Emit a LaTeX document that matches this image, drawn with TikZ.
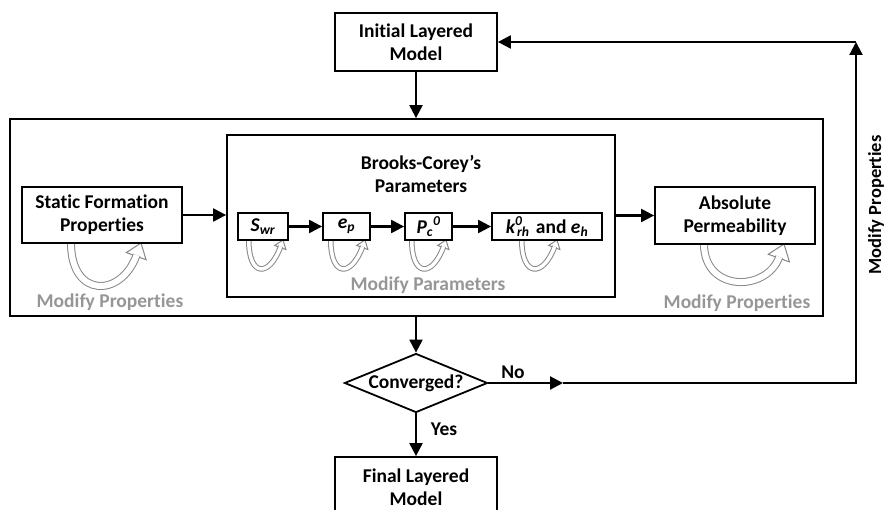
\documentclass[tikz,border=0pt]{standalone}
\usepackage{fontspec}
\setmainfont{Carlito}[Ligatures=NoCommon]
\usetikzlibrary{arrows.meta,shapes.geometric}
\definecolor{mgray}{RGB}{150,150,150}
\definecolor{lgray}{RGB}{135,135,135}
\newcommand{\loopar}[6]{%
 \pgfmathsetmacro{\LAhw}{0.75*#6}%
 \pgfmathsetmacro{\LAbx}{#2-0.342*#6}%
 \pgfmathsetmacro{\LAby}{#3+0.94*#6}%
 \pgfmathsetmacro{\LAcy}{#3+(#4-0.117*#6)/0.75}%
 \pgfmathsetmacro{\LAap}{(\LAcy-\LAby)/0.94}%
 \pgfmathsetmacro{\LAcx}{\LAbx-0.342*\LAap}%
 \pgfmathsetmacro{\LAsx}{#1+#5/2+1}%
 \pgfmathsetmacro{\LAux}{\LAbx+0.94*\LAhw}%
 \pgfmathsetmacro{\LAuy}{\LAby+0.342*\LAhw}%
 \pgfmathsetmacro{\LAvx}{\LAbx-0.94*\LAhw}%
 \pgfmathsetmacro{\LAvy}{\LAby-0.342*\LAhw}%
 \pgfmathsetmacro{\LAex}{\LAbx+0.342*1.2}%
 \pgfmathsetmacro{\LAey}{\LAby-0.94*1.2}%
 \draw[loophead] (#2,#3) -- (\LAux,\LAuy) -- (\LAvx,\LAvy) -- cycle;
 \draw[loopband, double distance=#5] (\LAsx,#3) .. controls (\LAsx,\LAcy) and (\LAcx,\LAcy) .. (\LAex,\LAey);
}
\begin{document}
\begin{tikzpicture}[x=1pt,y=-1pt,
  txt/.style={font=\bfseries\fontsize{19.5}{23}\selectfont, align=center, inner sep=0pt},
  box/.style={txt, draw, rectangle, line width=1.8pt},
  arr/.style={line width=2.2pt, -{Triangle[length=13pt,width=13pt]}},
  gtxt/.style={txt, text=mgray},
  loopband/.style={draw=lgray, line width=1pt, double=white},
  loophead/.style={draw=lgray, fill=white, line width=1pt, line join=miter}]
\useasboundingbox (0,0) rectangle (886,510);

% loops (drawn first, under the boxes)
\loopar{67}{141}{243}{43}{6}{14}
\loopar{700}{784}{244}{38}{6}{15}
\loopar{246}{283}{240}{29}{3.5}{8}
\loopar{328}{365}{240}{29}{3.5}{8}
\loopar{409}{446}{240}{29}{3.5}{8}
\loopar{519}{557}{240}{29}{3.5}{8}

% boxes
\node[box, minimum width=162pt, minimum height=58pt] (init) at (416,42) {Initial Layered\\Model};
\node[box, minimum width=813pt, minimum height=197pt] (outer) at (416.5,217.5) {};
\node[box, minimum width=388pt, minimum height=162pt] (inner) at (421,216) {};
\node[txt] (bctitle) at (421,174) {Brooks-Corey’s\\Parameters};
\node[box, minimum width=160pt, minimum height=56pt] (static) at (102,215) {Static Formation\\Properties};
\node[box, minimum width=160pt, minimum height=57pt] (abs) at (735,215.5) {Absolute\\Permeability};

\node[box, minimum width=50pt, minimum height=27pt] (swr) at (263,226.5) {\textit{S\textsubscript{wr}}};
\node[box, minimum width=47pt, minimum height=27pt] (ep) at (346.5,226.5) {\textit{e\textsubscript{p}}};
\node[box, minimum width=47pt, minimum height=27pt] (pc) at (428.5,226.5) {\textit{P\textsubscript{c}\textsuperscript{0}}};
\node[box, minimum width=110pt, minimum height=27pt] (kr) at (547,226.5) {\textit{k\rlap{\textsuperscript{0}}\kern0.1em\textsubscript{rh}}\kern0.1em{} and \textit{e\textsubscript{h}}};

\node[txt, draw, diamond, aspect=2.42, minimum width=143pt, minimum height=59pt, line width=1.8pt] (conv) at (416,383) {Converged?};
\node[box, minimum width=162pt, minimum height=60pt] (final) at (416,487) {Final Layered\\Model};

% gray labels
\node[gtxt] (mp1) at (110,302) {Modify Properties};
\node[gtxt] (mpar) at (428,285) {Modify Parameters};
\node[gtxt] (mp2) at (737,303) {Modify Properties};

% labels
\node[txt] (no) at (513,372) {No};
\node[txt] (yes) at (444,429) {Yes};
\node[txt, rotate=90, font=\bfseries\fontsize{18.5}{22}\selectfont] (mprot) at (876,205) {Modify Properties};

% connectors
\draw[arr] (init.south) -- (init.south |- outer.north);
\draw[arr] (static.east) -- (static.east -| inner.west);
\draw[arr] (swr) -- (ep);
\draw[arr] (ep) -- (pc);
\draw[arr] (pc) -- (kr);
\draw[arr] (inner.east |- abs.west) -- (abs.west);
\draw[arr] (conv.north |- outer.south) -- (conv.north);
\draw[arr] (conv.south) -- (final.north);

\coordinate (nomid) at (563,383);
\coordinate (cB) at (856,383);
\coordinate (cT) at (856,42);
\draw[arr] (conv.east) -- (nomid);
\draw[arr] (nomid) -- (cB) -- (cT);
\draw[arr] (cT) -- (init.east);
\end{tikzpicture}
\end{document}
